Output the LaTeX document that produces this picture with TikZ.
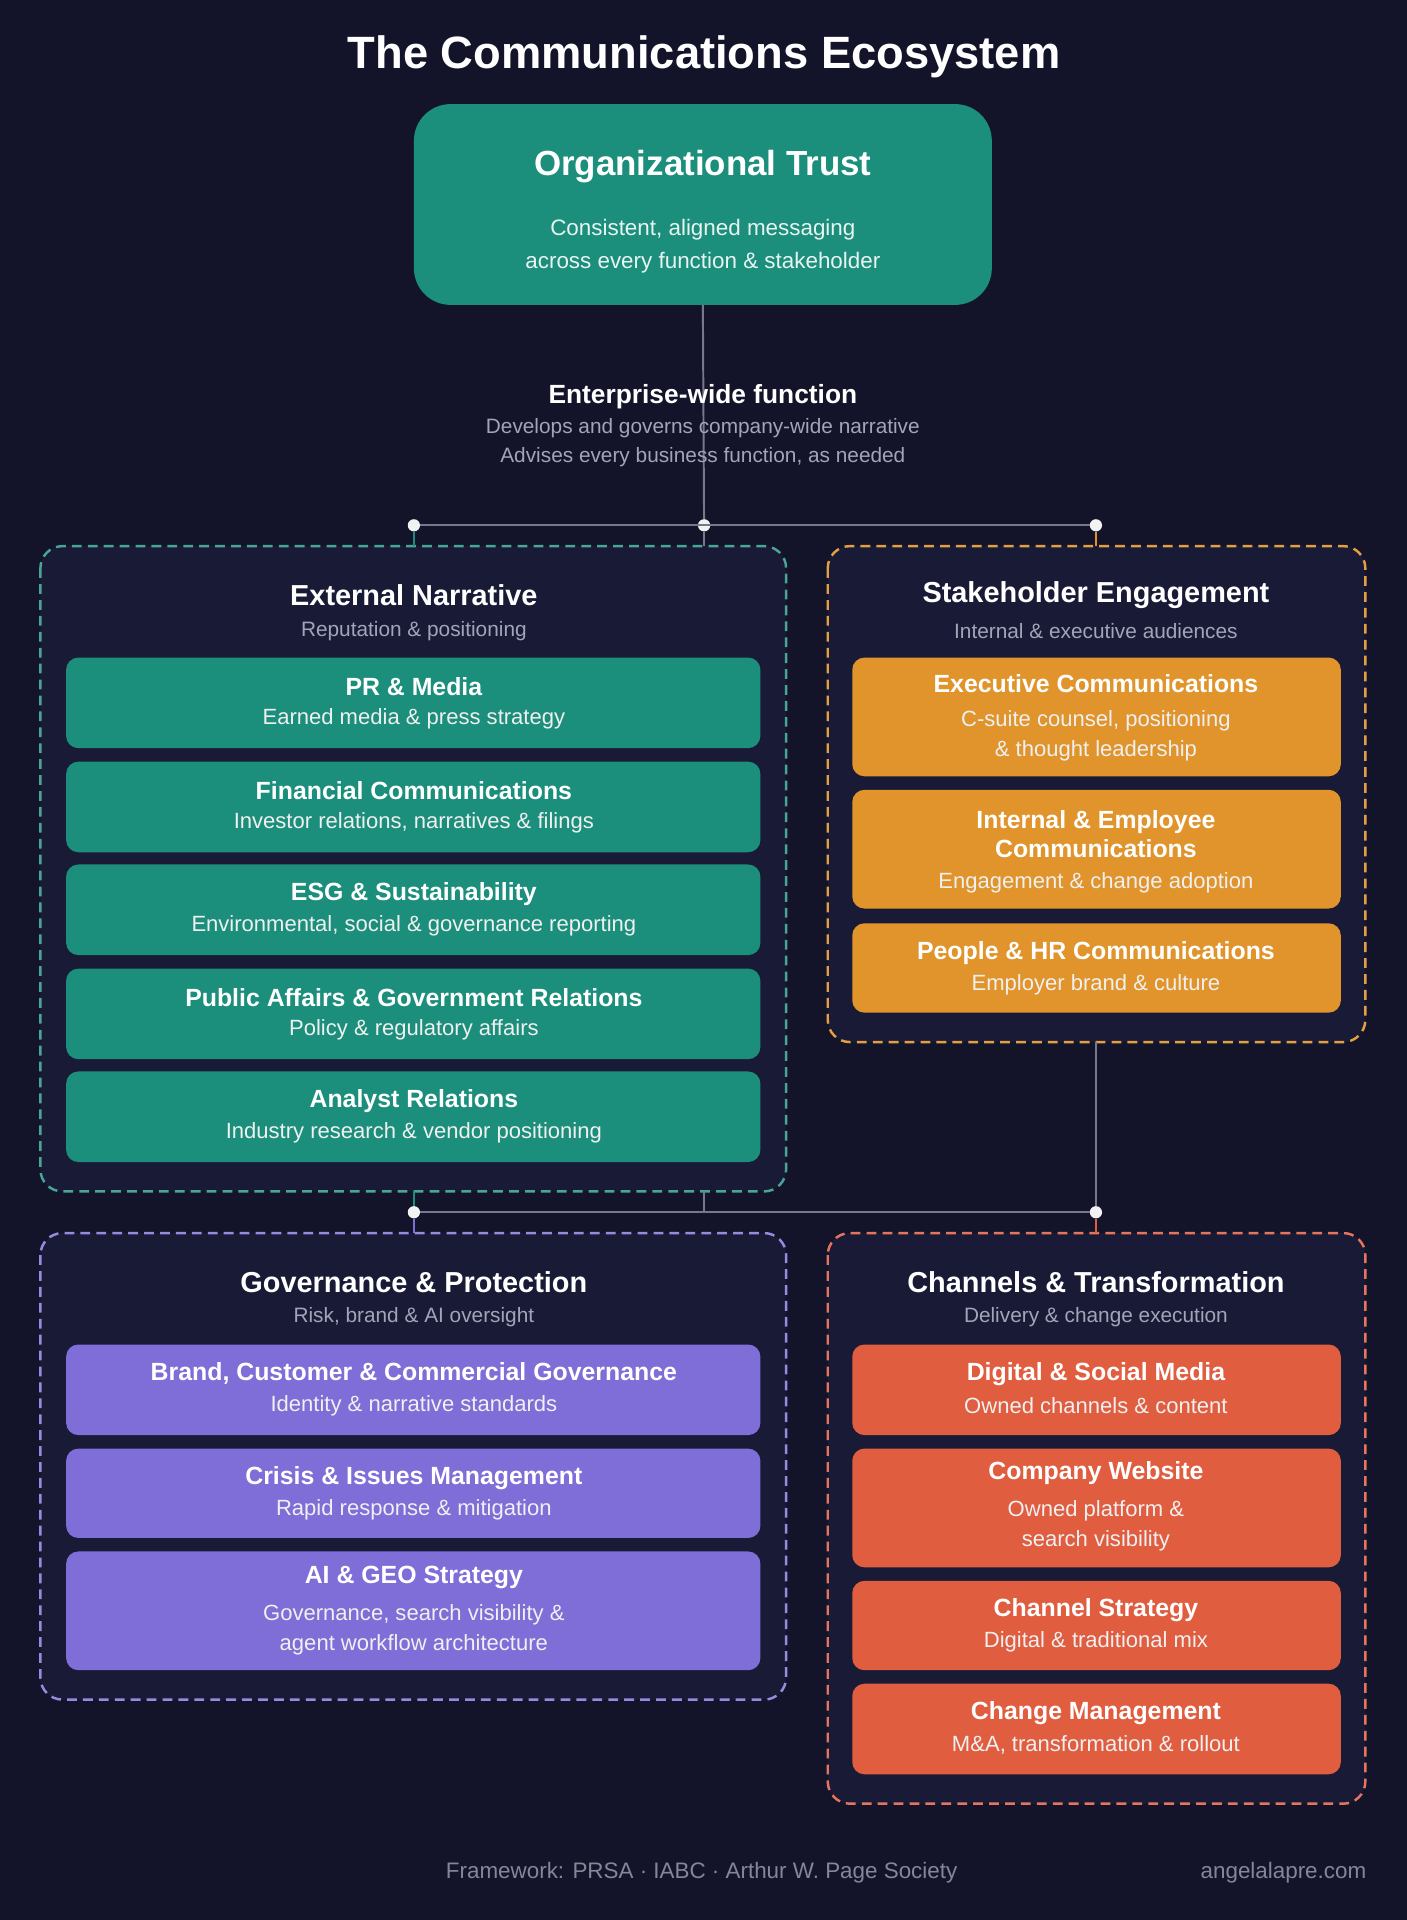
\documentclass[tikz,border=0pt]{standalone}
\usepackage{fontspec}
\setmainfont{Liberation Sans}
\definecolor{bg}{HTML}{13142A}
\definecolor{pan}{HTML}{191A36}
\definecolor{teal}{HTML}{1B8F7B}
\definecolor{org}{HTML}{E0942B}
\definecolor{pur}{HTML}{7F6DD8}
\definecolor{red}{HTML}{E05D40}
\definecolor{gry}{HTML}{A3A4B8}
\definecolor{ln}{HTML}{77788C}
\newcommand\fs[1]{\fontsize{#1}{#1}\selectfont}
\tikzset{
 box/.style={draw=none,rounded corners=10pt,inner sep=0pt},
 pnl/.style={draw=#1,fill=pan,line width=2pt,dash pattern=on 8pt off 5pt,rounded corners=18pt},
 ttl/.style={text=white,font=\fs{20.3}\bfseries,align=center,inner sep=0pt},
 sub/.style={text=white!88!gray,font=\fs{18}},
 ptl/.style={text=white,font=\fs{23.6}\bfseries,inner sep=0pt},
 psb/.style={text=gry,font=\fs{17},inner sep=0pt},
 dot/.style={circle,fill=white!90!gray,inner sep=0pt,minimum size=10pt},
 con/.style={draw=ln,line width=1.6pt},
}
\tikzset{sub/.append style={align=center,inner sep=0pt}}
% box: name x1 y1 x2 y2 color
\newcommand\bx[6]{\node[box,fill=#6,minimum width={(#4-#2)*1pt},minimum height={(#5-#3)*1pt}] (#1) at ({(#2+#4)/2},{-(#3+#5)/2}) {};}
\begin{document}
\begin{tikzpicture}[x=1pt,y=1pt]
\fill[bg] (0,0) rectangle (1149,-1568);
\useasboundingbox (0,0) rectangle (1149,-1568);
\node[text=white,font=\fs{37}\bfseries] (title) at (575,-46) {The Communications Ecosystem};
% top box
\node[box,rounded corners=30pt,fill=teal,minimum width=472pt,minimum height=164pt] (trust) at (574,-167) {};
\node[text=white,font=\fs{28.5}\bfseries] (trustT) at (574,-136) {Organizational Trust};
\node[sub,font=\fs{18.3},text=white!90!teal] (trustS) at (574,-201) {Consistent, aligned messaging\\[9pt]across every function \& stakeholder};
% connectors
\node[dot] (dL) at (338,-429) {};
\node[dot] (dM) at (575,-429) {};
\node[dot] (dR) at (895,-429) {};
\draw[con] (trust.south) -- (dM);
\draw[con] (dL) -- (dR);
\node[text=white,font=\fs{21.5}\bfseries] (ent) at (574,-324) {Enterprise-wide function};
\node[psb,font=\fs{17}] (ent1) at (574,-350) {Develops and governs company-wide narrative};
\node[psb,font=\fs{17}] (ent2) at (574,-373) {Advises every business function, as needed};
% panels
\draw[pnl=teal!80!white] (33,-446) rectangle (642,-973);
\draw[pnl=org!90!white] (676,-446) rectangle (1115,-851);
\draw[pnl=pur!80!white] (33,-1007) rectangle (642,-1388);
\draw[pnl=red!85!white] (676,-1007) rectangle (1115,-1473);
\coordinate (pLt) at (338,-446);
\coordinate (pMt) at (575,-446);
\coordinate (pRt) at (895,-446);
\draw[con,draw=teal] (dL) -- (pLt);
\draw[con] (dM) -- (pMt);
\draw[con,draw=org] (dR) -- (pRt);
% second junction
\node[dot] (eL) at (338,-990) {};
\node[dot] (eR) at (895,-990) {};
\coordinate (pRb) at (895,-851);
\coordinate (pLb) at (575,-973);
\coordinate (pLb2) at (338,-973);
\coordinate (qLt) at (338,-1007);
\coordinate (qRt) at (895,-1007);
\draw[con] (pRb) -- (eR);
\draw[con] (eL) -- (eR);
\draw[con] (pLb) -- (575,-990);
\draw[con,draw=teal] (pLb2) -- (eL);
\draw[con,draw=pur] (eL) -- (qLt);
\draw[con,draw=red] (eR) -- (qRt);
% panel titles
\node[ptl] (p1) at (338,-486) {External Narrative};
\node[psb] (p1s) at (338,-515) {Reputation \& positioning};
\node[ptl] (p2) at (895,-486) {Stakeholder Engagement};
\node[psb] (p2s) at (895,-515) {Internal \& executive audiences};
\node[ptl] (p3) at (338,-1047) {Governance \& Protection};
\node[psb] (p3s) at (338,-1076) {Risk, brand \& AI oversight};
\node[ptl] (p4) at (895,-1047) {Channels \& Transformation};
\node[psb] (p4s) at (895,-1076) {Delivery \& change execution};
% External narrative boxes
\bx{a1}{54}{537}{621}{611}{teal}
\node[ttl] at (338,-561) {PR \& Media};
\node[sub] at (338,-587) {Earned media \& press strategy};
\bx{a2}{54}{622}{621}{696}{teal}
\node[ttl] at (338,-646) {Financial Communications};
\node[sub] at (338,-672) {Investor relations, narratives \& filings};
\bx{a3}{54}{706}{621}{780}{teal}
\node[ttl] at (338,-730) {ESG \& Sustainability};
\node[sub] at (338,-756) {Environmental, social \& governance reporting};
\bx{a4}{54}{791}{621}{865}{teal}
\node[ttl] at (338,-815) {Public Affairs \& Government Relations};
\node[sub] at (338,-841) {Policy \& regulatory affairs};
\bx{a5}{54}{875}{621}{949}{teal}
\node[ttl] at (338,-899) {Analyst Relations};
\node[sub] at (338,-925) {Industry research \& vendor positioning};
% Stakeholder boxes
\bx{b1}{696}{537}{1095}{634}{org}
\node[ttl] at (895,-558) {Executive Communications};
\node[sub] at (895,-601) {C-suite counsel, positioning\\[6pt]\& thought leadership};
\bx{b2}{696}{645}{1095}{742}{org}
\node[ttl] at (895,-681) {Internal \& Employee\\[3pt]Communications};
\node[sub] at (895,-721) {Engagement \& change adoption};
\bx{b3}{696}{754}{1095}{827}{org}
\node[ttl] at (895,-778) {People \& HR Communications};
\node[sub] at (895,-804) {Employer brand \& culture};
% Governance boxes
\bx{c1}{54}{1098}{621}{1172}{pur}
\node[ttl] at (338,-1122) {Brand, Customer \& Commercial Governance};
\node[sub] at (338,-1148) {Identity \& narrative standards};
\bx{c2}{54}{1183}{621}{1256}{pur}
\node[ttl] at (338,-1207) {Crisis \& Issues Management};
\node[sub] at (338,-1233) {Rapid response \& mitigation};
\bx{c3}{54}{1267}{621}{1364}{pur}
\node[ttl] at (338,-1288) {AI \& GEO Strategy};
\node[sub] at (338,-1331) {Governance, search visibility \&\\[6pt]agent workflow architecture};
% Channels boxes
\bx{d1}{696}{1098}{1095}{1172}{red}
\node[ttl] at (895,-1122) {Digital \& Social Media};
\node[sub] at (895,-1148) {Owned channels \& content};
\bx{d2}{696}{1183}{1095}{1280}{red}
\node[ttl] at (895,-1203) {Company Website};
\node[sub] at (895,-1246) {Owned platform \&\\[6pt]search visibility};
\bx{d3}{696}{1291}{1095}{1364}{red}
\node[ttl] at (895,-1315) {Channel Strategy};
\node[sub] at (895,-1341) {Digital \& traditional mix};
\bx{d4}{696}{1375}{1095}{1449}{red}
\node[ttl] at (895,-1399) {Change Management};
\node[sub] at (895,-1425) {M\&A, transformation \& rollout};
% footer
\node[psb,font=\fs{18.3},text=ln!90!white] (f1) at (573,-1529) {Framework: PRSA · IABC · Arthur W. Page Society};
\node[psb,font=\fs{18.3},text=ln!90!white,anchor=east] (f2) at (1116,-1529) {angelalapre.com};
\end{tikzpicture}
\end{document}
